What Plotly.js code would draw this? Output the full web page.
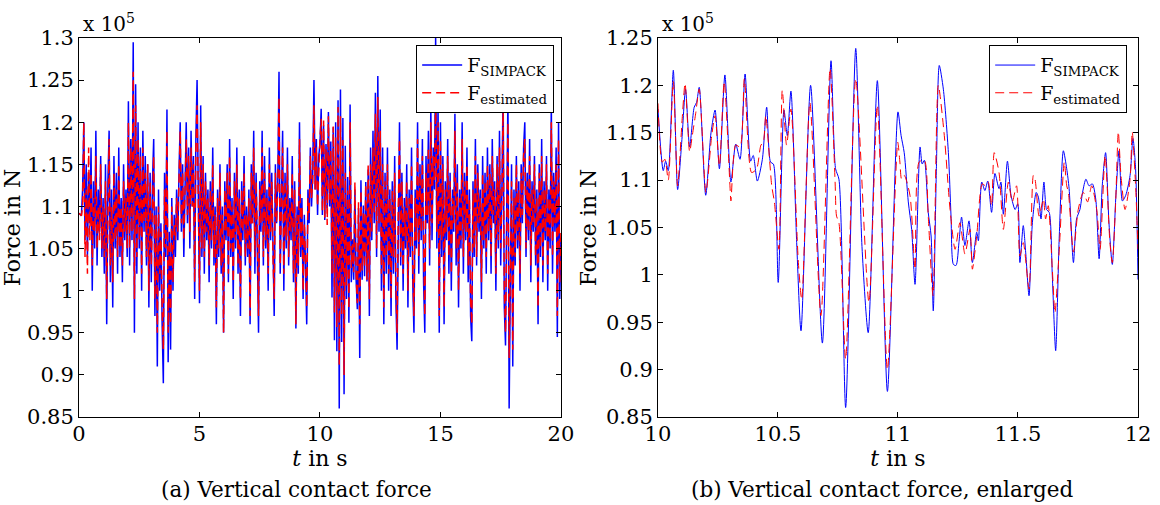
<!DOCTYPE html>
<html>
<head>
<meta charset="utf-8">
<script src="https://cdn.plot.ly/plotly-3.0.1.min.js"></script>
<style>html,body{margin:0;padding:0;background:#fff;}#chart{width:1160px;height:505px;}</style>
</head>
<body>
<div id="chart"></div>
<script>
// ---------- Data (force in units of 10^5 N) ----------
// Panel (a): sampled every 0.05 s from 0 to 20 s
const sampleStepA = 0.05;
const forceSimpackA = [
 1.092,1.090,1.089,1.12,1.20,1.06,1.15,1.04,1.14,1.08,1.17,1.00,1.13,1.05,1.19,1.03,1.12,1.07,1.16,1.04,
 1.11,1.02,1.15,0.96,1.13,1.19,1.01,1.12,0.98,1.16,1.05,1.14,1.02,1.17,1.04,1.11,1.01,1.15,1.06,1.12,
 1.04,1.225,1.03,1.18,1.06,1.295,0.95,1.245,1.02,1.20,1.05,1.17,1.00,1.19,1.07,1.16,1.03,1.15,0.98,1.14,
 1.01,1.13,1.18,0.97,1.10,0.91,1.12,1.00,1.08,0.96,0.89,1.14,1.04,1.215,0.915,1.07,0.93,1.11,1.00,1.09,
 1.04,1.12,1.06,1.14,1.20,1.07,1.15,1.04,1.13,1.20,1.08,1.17,1.05,1.19,1.10,1.16,0.99,1.18,1.25,1.08,
 0.985,1.22,1.04,1.16,1.02,1.14,1.06,1.12,1.01,1.13,1.05,1.17,1.03,1.10,0.96,1.12,1.04,1.15,1.02,1.10,
 0.95,1.13,1.06,1.15,1.01,1.18,1.04,1.11,0.99,1.14,1.05,1.17,1.02,1.12,0.97,1.13,1.06,1.16,1.03,1.10,
 1.04,1.12,0.96,1.15,1.08,1.19,1.02,1.14,1.06,0.95,1.13,1.07,1.19,1.03,1.16,1.05,1.12,1.00,1.17,1.06,
 1.14,1.03,0.97,1.15,1.08,1.13,1.26,1.02,1.12,1.19,1.00,1.14,1.05,1.17,1.03,1.11,1.06,1.16,1.01,1.13,
 0.955,1.10,1.02,1.20,1.04,1.11,0.99,1.09,1.03,0.96,1.12,1.08,1.17,1.10,1.14,1.25,1.12,1.18,1.09,1.16,
 1.175,1.216,1.09,1.196,1.084,1.174,1.098,1.212,1.10,1.177,0.992,1.194,0.941,1.20,0.928,1.226,0.86,1.239,0.939,1.205,
 0.877,1.172,0.99,1.135,0.962,1.221,1.01,1.061,1.013,1.12,1.013,0.978,1.098,0.92,1.131,1.013,1.101,1.017,1.129,1.011,
 1.144,0.97,1.17,1.06,1.19,1.08,1.235,1.04,1.255,1.07,1.215,1.00,1.17,0.96,1.14,1.02,1.17,1.00,1.12,0.97,
 1.13,1.02,1.16,0.99,0.93,1.12,1.20,1.03,1.14,1.00,1.11,1.05,1.15,0.98,1.12,1.04,1.17,1.01,0.95,1.12,
 1.05,1.20,1.02,1.15,1.06,1.18,1.01,0.95,1.16,1.08,1.19,1.03,1.22,1.06,1.17,1.12,1.30,1.05,1.22,0.95,
 1.20,1.04,1.16,0.96,1.13,1.06,1.18,1.02,1.14,1.00,1.12,1.07,1.21,1.03,1.15,0.98,1.12,1.05,1.20,1.02,
 1.14,1.06,1.17,1.01,1.12,0.97,0.94,1.13,1.04,1.18,1.03,1.15,1.07,1.12,0.99,1.16,1.05,1.14,1.02,1.17,
 1.06,1.15,1.02,1.18,1.08,1.13,1.00,1.16,1.05,1.19,1.03,1.12,1.24,0.98,0.935,1.10,1.23,0.86,1.04,1.15,
 0.91,1.12,1.03,1.16,1.05,1.13,1.00,1.15,1.08,1.17,1.20,1.04,1.14,1.06,1.18,1.01,1.13,1.07,1.16,1.03,
 1.12,0.96,1.15,1.04,1.18,1.01,1.13,1.06,1.16,1.00,1.12,1.05,1.22,1.02,1.14,1.07,1.17,0.945,1.20,0.99,
 1.06
];
const forceEstimatedA = [
 1.092,1.090,1.089,1.10,1.20,1.04,1.12,1.02,1.17,1.06,1.14,1.03,1.11,1.07,1.16,1.05,1.10,1.06,1.15,1.05,
 1.10,1.04,1.13,0.99,1.12,1.18,1.03,1.10,1.01,1.14,1.06,1.12,1.04,1.15,1.05,1.10,1.03,1.13,1.07,1.11,
 1.05,1.20,1.05,1.17,1.07,1.26,0.99,1.22,1.04,1.18,1.06,1.16,1.02,1.17,1.08,1.14,1.04,1.15,1.00,1.13,
 1.03,1.12,1.16,0.99,1.09,0.95,1.10,1.02,1.07,0.98,0.93,1.12,1.05,1.19,0.95,1.06,0.96,1.10,1.01,1.08,
 1.06,1.11,1.07,1.13,1.19,1.08,1.14,1.06,1.12,1.18,1.09,1.16,1.07,1.17,1.10,1.15,1.01,1.17,1.22,1.09,
 1.00,1.20,1.05,1.15,1.04,1.13,1.07,1.11,1.03,1.12,1.06,1.15,1.04,1.09,0.98,1.11,1.05,1.14,1.03,1.09,
 0.95,1.12,1.07,1.14,1.02,1.16,1.05,1.10,1.01,1.13,1.06,1.15,1.03,1.11,0.99,1.12,1.07,1.14,1.04,1.09,
 1.05,1.11,0.97,1.14,1.08,1.17,1.04,1.13,1.07,0.97,1.12,1.08,1.17,1.04,1.14,1.06,1.11,1.02,1.15,1.07,
 1.13,1.04,0.99,1.14,1.08,1.12,1.23,1.03,1.11,1.17,1.02,1.13,1.06,1.15,1.04,1.10,1.07,1.14,1.02,1.12,
 0.96,1.09,1.03,1.18,1.05,1.10,1.00,1.08,1.04,0.98,1.11,1.09,1.16,1.11,1.13,1.22,1.12,1.17,1.10,1.15,
 1.181,1.204,1.094,1.202,1.087,1.168,1.078,1.207,1.108,1.168,1.02,1.195,0.974,1.182,0.957,1.218,0.911,1.207,0.971,1.179,
 0.90,1.14,1.006,1.119,0.978,1.20,1.027,1.055,1.022,1.129,1.02,0.985,1.105,0.96,1.119,1.024,1.094,1.027,1.126,1.013,
 1.151,0.99,1.15,1.07,1.17,1.09,1.21,1.05,1.23,1.08,1.19,1.02,1.15,0.98,1.13,1.04,1.15,1.02,1.11,0.99,
 1.12,1.04,1.14,1.01,0.95,1.10,1.18,1.04,1.13,1.02,1.10,1.06,1.13,1.00,1.11,1.05,1.15,1.03,0.97,1.11,
 1.06,1.18,1.04,1.14,1.07,1.16,1.03,0.97,1.14,1.09,1.17,1.05,1.20,1.08,1.16,1.13,1.23,1.07,1.20,0.97,
 1.18,1.06,1.15,0.98,1.12,1.07,1.16,1.04,1.13,1.02,1.11,1.08,1.19,1.05,1.13,1.00,1.11,1.06,1.18,1.04,
 1.13,1.07,1.15,1.03,1.11,0.99,0.96,1.12,1.05,1.16,1.04,1.14,1.08,1.11,1.01,1.14,1.06,1.13,1.04,1.15,
 1.07,1.14,1.04,1.16,1.09,1.12,1.02,1.15,1.06,1.17,1.05,1.11,1.22,1.00,0.95,1.09,1.20,0.92,1.05,1.13,
 0.93,1.11,1.04,1.15,1.06,1.12,1.02,1.14,1.09,1.16,1.18,1.05,1.13,1.07,1.16,1.03,1.12,1.08,1.15,1.04,
 1.11,0.98,1.14,1.05,1.16,1.03,1.12,1.07,1.15,1.02,1.11,1.06,1.20,1.04,1.13,1.08,1.15,0.97,1.18,1.01,
 1.07
];

// Panel (b): enlarged 10-12 s
const timeSimpackB = [
 10.000,10.022,10.032,10.043,10.064,10.082,10.099,10.115,10.132,10.151,10.161,10.172,10.199,10.221,10.238,10.256,10.279,10.304,10.324,10.342,
 10.363,10.386,10.397,10.414,10.435,10.453,10.469,10.481,10.501,10.525,10.539,10.554,10.578,10.596,10.636,10.685,10.721,10.740,10.754,10.782,
 10.824,10.850,10.876,10.914,10.956,11.000,11.013,11.026,11.043,11.057,11.071,11.092,11.101,11.110,11.126,11.138,11.147,11.160,11.172,11.189,
 11.210,11.221,11.231,11.242,11.254,11.265,11.279,11.296,11.310,11.328,11.335,11.349,11.362,11.374,11.390,11.404,11.421,11.429,11.439,11.456,
 11.471,11.488,11.499,11.508,11.522,11.532,11.546,11.560,11.576,11.585,11.596,11.608,11.619,11.630,11.643,11.657,11.672,11.689,11.703,11.713,
 11.731,11.744,11.758,11.769,11.783,11.796,11.810,11.824,11.838,11.851,11.865,11.879,11.893,11.908,11.921,11.935,11.949,11.967,11.979,11.990,
 12.000
];
const forceSimpackB = [
 1.175,1.110,1.120,1.110,1.216,1.090,1.140,1.196,1.135,1.177,1.182,1.198,1.084,1.150,1.174,1.112,1.211,1.098,1.138,1.122,
 1.212,1.120,1.126,1.099,1.122,1.177,1.119,1.117,0.992,1.174,1.147,1.194,1.034,0.941,1.200,0.928,1.226,1.112,1.101,0.860,
 1.239,1.030,0.939,1.205,0.877,1.172,1.147,1.129,1.077,1.048,0.990,1.135,1.117,1.121,1.066,1.041,0.962,1.112,1.221,1.196,
 1.129,1.062,1.011,1.010,1.034,1.061,1.031,1.057,1.013,1.045,1.036,1.098,1.089,1.099,1.066,1.107,1.091,1.098,1.064,1.120,
 1.084,1.069,1.075,1.013,1.052,1.024,0.978,1.055,1.087,1.082,1.059,1.098,1.069,1.066,0.999,0.920,1.041,1.131,1.112,1.091,
 1.013,1.059,1.069,1.087,1.101,1.094,1.096,1.080,1.017,1.094,1.129,1.055,1.011,1.084,1.131,1.078,1.084,1.105,1.144,1.112,
 0.995
];
const timeEstimatedB = [
 10.000,10.018,10.029,10.043,10.064,10.082,10.101,10.113,10.132,10.143,10.157,10.172,10.200,10.224,10.238,10.256,10.276,10.300,10.304,10.324,
 10.342,10.360,10.390,10.411,10.429,10.439,10.449,10.467,10.474,10.485,10.504,
 10.518,10.536,10.554,10.585,10.599,10.633,10.679,10.717,10.738,10.744,10.754,10.782,10.824,10.879,10.914,10.956,10.999,
 11.008,11.015,11.026,11.050,11.071,11.088,11.110,11.126,11.146,11.168,11.193,11.217,11.238,11.258,11.279,11.300,11.310,11.328,11.351,11.365,
 11.376,11.390,11.401,11.421,11.439,11.460,11.476,
 11.494,11.508,11.522,11.546,11.564,11.571,11.588,11.606,11.615,11.626,11.643,11.654,11.672,11.693,11.703,11.710,11.731,11.751,11.772,11.790,
 11.807,11.828,11.842,11.863,11.883,11.893,11.907,11.918,11.929,11.946,11.967,11.976,11.990,12.000
];
const forceEstimatedB = [
 1.181,1.119,1.122,1.100,1.204,1.094,1.165,1.202,1.130,1.147,1.170,1.196,1.087,1.147,1.168,1.115,1.204,1.094,1.078,1.137,
 1.135,1.207,1.108,1.112,1.137,1.140,1.168,1.115,1.094,1.077,1.027,
 1.195,1.137,1.175,1.013,0.974,1.182,0.957,1.218,1.098,1.062,1.055,0.911,1.207,0.971,1.179,0.900,1.140,
 1.119,1.101,1.105,1.084,1.006,1.119,1.121,1.062,0.978,1.200,1.147,1.069,1.027,1.055,1.022,1.048,1.006,1.041,1.096,1.094,
 1.098,1.073,1.129,1.108,1.048,1.098,1.077,
 1.094,1.020,1.034,0.985,1.105,1.101,1.062,1.080,1.059,1.073,1.006,0.960,1.027,1.119,1.094,1.087,1.024,1.069,1.087,1.077,
 1.094,1.069,1.027,1.126,1.034,1.013,1.077,1.151,1.105,1.069,1.101,1.151,1.094,1.027
];

// Tick labels
const yTicksA = [0.85,0.9,0.95,1,1.05,1.1,1.15,1.2,1.25,1.3];
const yTickTextA = ['0.85','0.9','0.95','1','1.05','1.1','1.15','1.2','1.25','1.3'];
const yTicksB = [0.85,0.9,0.95,1,1.05,1.1,1.15,1.2,1.25];
const yTickTextB = ['0.85','0.9','0.95','1','1.05','1.1','1.15','1.2','1.25'];
const xTicksA = [0,5,10,15,20];
const xTicksB = [10,10.5,11,11.5,12];
const seriesNames = ['F<sub>SIMPACK</sub>','F<sub>estimated</sub>'];
const captions = ['(a) Vertical contact force','(b) Vertical contact force, enlarged'];

// ---------- Build ----------
const timeA = forceSimpackA.map((_, i) => +(i * sampleStepA).toFixed(2));
const FONT = 'DejaVu Serif';
const BLUE = '#0000ff', RED = '#ff0000';

const traces = [
  {x: timeA, y: forceSimpackA, type:'scatter', mode:'lines', name: seriesNames[0],
   line:{color:BLUE, width:1.5}, xaxis:'x', yaxis:'y', legend:'legend'},
  {x: timeA, y: forceEstimatedA, type:'scatter', mode:'lines', name: seriesNames[1],
   line:{color:RED, width:1.5, dash:'9px,5px'}, xaxis:'x', yaxis:'y', legend:'legend'},
  {x: timeSimpackB, y: forceSimpackB, type:'scatter', mode:'lines', name: seriesNames[0],
   line:{color:BLUE, width:1, shape:'spline', smoothing:0.7}, xaxis:'x2', yaxis:'y2', legend:'legend2'},
  {x: timeEstimatedB, y: forceEstimatedB, type:'scatter', mode:'lines', name: seriesNames[1],
   line:{color:RED, width:1, dash:'9px,5px', shape:'spline', smoothing:0.7}, xaxis:'x2', yaxis:'y2', legend:'legend2'}
];

const axisCommon = {
  showline:true, linecolor:'#000', linewidth:1, mirror:'ticks',
  ticks:'inside', ticklen:5, tickcolor:'#000', tickwidth:1,
  showgrid:false, zeroline:false, tickfont:{family:FONT, size:21, color:'#000'}
};

const legendCommon = {
  xanchor:'right', yanchor:'top', bgcolor:'#fff', bordercolor:'#000', borderwidth:1.2,
  font:{family:FONT, size:19, color:'#000'}, tracegroupgap:0, itemwidth:40
};

const layout = {
  width:1160, height:505,
  margin:{l:79, r:22, t:38, b:88},
  paper_bgcolor:'#fff', plot_bgcolor:'#fff',
  font:{family:FONT, color:'#000'},
  xaxis: Object.assign({}, axisCommon, {domain:[0,0.4551], range:[0,20], tickvals:xTicksA, anchor:'y',
    ticklabelstandoff:-2,
    title:{text:'<i>t</i> in s', font:{family:FONT, size:22}, standoff:0}}),
  yaxis: Object.assign({}, axisCommon, {range:[0.85,1.3], tickvals:yTicksA, ticktext:yTickTextA, anchor:'x',
    title:{text:'Force in N', font:{family:FONT, size:22}, standoff:3}}),
  xaxis2: Object.assign({}, axisCommon, {domain:[0.5467,1], range:[10,12], tickvals:xTicksB, anchor:'y2',
    ticklabelstandoff:-2,
    title:{text:'<i>t</i> in s', font:{family:FONT, size:22}, standoff:0}}),
  yaxis2: Object.assign({}, axisCommon, {range:[0.85,1.25], tickvals:yTicksB, ticktext:yTickTextB, anchor:'x2',
    title:{text:'Force in N', font:{family:FONT, size:22}, standoff:3}}),
  legend: Object.assign({}, legendCommon, {x:0.4485, y:0.9815}),
  legend2: Object.assign({}, legendCommon, {x:0.9896, y:0.9815}),
  showlegend:true,
  annotations:[
    {xref:'paper', yref:'paper', x:0.002, y:1.0, xanchor:'left', yanchor:'bottom', showarrow:false,
     text:'x 10<sup>5</sup>', font:{family:FONT, size:20, color:'#000'}},
    {xref:'paper', yref:'paper', x:0.5487, y:1.0, xanchor:'left', yanchor:'bottom', showarrow:false,
     text:'x 10<sup>5</sup>', font:{family:FONT, size:20, color:'#000'}},
    {xref:'paper', yref:'paper', x:0.2055, y:-0.19, xanchor:'center', yanchor:'middle', showarrow:false,
     text:captions[0], font:{family:FONT, size:21.5, color:'#000'}},
    {xref:'paper', yref:'paper', x:0.7583, y:-0.19, xanchor:'center', yanchor:'middle', showarrow:false,
     text:captions[1], font:{family:FONT, size:21.5, color:'#000'}}
  ]
};

Plotly.newPlot('chart', traces, layout, {displayModeBar:false, staticPlot:true});
</script>
</body>
</html>
